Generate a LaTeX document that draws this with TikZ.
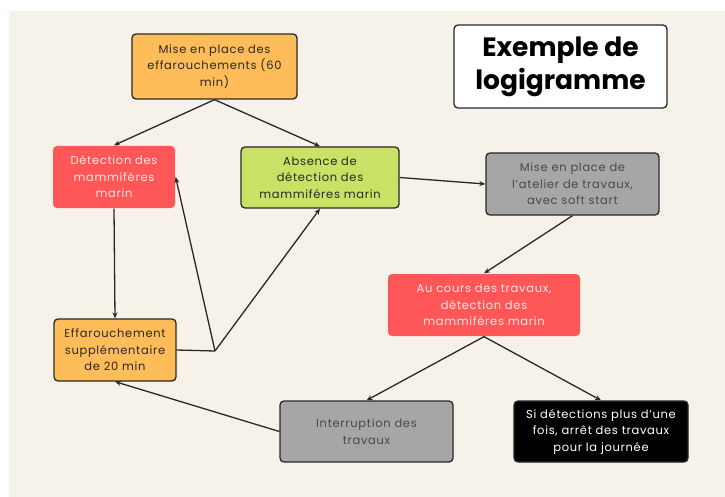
\documentclass[tikz,border=0pt]{standalone}
\usepackage{fontspec}
\setmainfont{Poppins}[LetterSpace=6]
\newfontfamily\titlefont{Poppins}[BoldFont={* Bold}]
\usepackage{tikz}
\usetikzlibrary{arrows.meta}
\definecolor{paper}{RGB}{246,242,234}
\definecolor{apricot}{RGB}{255,189,89}
\definecolor{coral}{RGB}{255,87,87}
\definecolor{lime}{RGB}{201,226,101}
\definecolor{stone}{RGB}{166,166,166}
\definecolor{ink}{RGB}{40,40,40}
\definecolor{blush}{RGB}{255,230,228}

\tikzset{
  box/.style={rounded corners=4pt,align=center,inner sep=0pt,
    font=\fontsize{11.5}{16.5}\selectfont,draw=ink,line width=1.3pt},
  flow/.style={draw=ink,line width=1.3pt,-{Stealth[length=6pt,width=5pt]}}
}

\begin{document}
\begin{tikzpicture}[x=1pt,y=-1pt]
    \useasboundingbox (0,0) rectangle (725,497);
    \fill[paper] (9,11) rectangle (725,497);

    % boxes
    \node[box,fill=apricot,text=ink,minimum width=165pt,minimum height=65pt] (setup) at (214.5,66.5)
      {Mise en place des\\effarouchements (60\\min)};
    \node[box,fill=white,text=black,minimum width=213pt,minimum height=83pt,
      font=\titlefont\bfseries\fontsize{26.5}{33}\selectfont] (title) at (560.5,66.5)
      {Exemple de\\logigramme};
    \node[box,draw=none,fill=coral,text=blush,minimum width=122pt,minimum height=62pt] (detect) at (114,177)
      {Détection des\\mammiféres\\marin};
    \node[box,fill=lime,text=ink,minimum width=158pt,minimum height=61pt] (absent) at (320,177.5)
      {Absence de\\détection des\\mammiféres marin};
    \node[box,fill=stone,text=ink!85,minimum width=173pt,minimum height=62pt] (works) at (572.5,184)
      {Mise en place de\\l{\char39}atelier de travaux,\\avec soft start};
    \node[box,draw=none,fill=coral,text=blush,minimum width=192pt,minimum height=62pt] (during) at (484,305)
      {Au cours des travaux,\\détection des\\mammiféres marin};
    \node[box,fill=apricot,text=ink,minimum width=122pt,minimum height=62pt] (extra) at (115,350)
      {Effarouchement\\supplémentaire\\de 20 min};
    \node[box,fill=stone,text=ink!85,minimum width=173pt,minimum height=61pt] (stop) at (366.5,431.5)
      {Interruption des\\travaux};
    \node[box,fill=black,text=white,minimum width=174pt,minimum height=61pt] (halt) at (601,431.5)
      {Si détections plus d{\char39}une\\fois, arrêt des travaux\\pour la journée};

    \coordinate (fork) at (215,351);

    % connectors
    \draw[flow] (setup.south) -- (detect.north);
    \draw[flow] (setup.south) -- (absent.north);
    \draw[flow] (absent.east) -- (works.west);
    \draw[flow] (works.south) -- (during.north);
    \draw[flow] (during.south) -- (stop.north);
    \draw[flow] (during.south) -- (halt.north);
    \draw[flow] (detect.south) -- (extra.north);
    \draw[draw=ink,line width=1.3pt] (extra.east) -- (fork);
    \draw[flow] (fork) -- (detect.east);
    \draw[flow] (fork) -- (absent.south);
    \draw[flow] (stop.west) -- (extra.south);
\end{tikzpicture}
\end{document}
